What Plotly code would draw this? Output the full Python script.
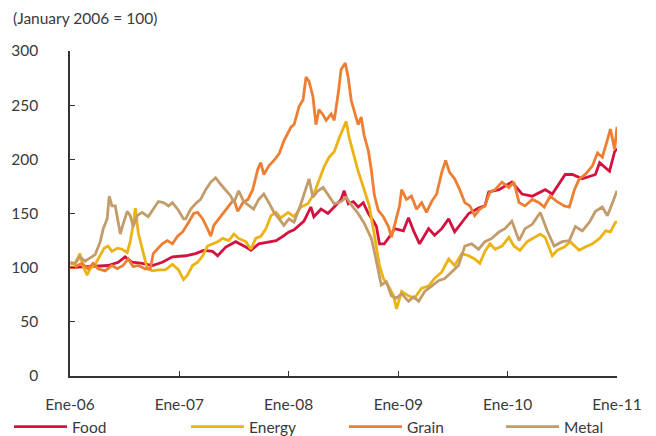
import plotly.graph_objects as go

# ---------------- data (index, January 2006 = 100) ----------------
food_dates = ["2006-01-02","2006-02-20","2006-04-05","2006-05-08","2006-06-11","2006-07-04","2006-07-28",
    "2006-08-30","2006-10-03","2006-11-05","2006-12-09","2007-01-05","2007-01-22","2007-02-24","2007-03-23",
    "2007-04-22","2007-05-09","2007-06-05","2007-07-08","2007-08-11","2007-08-28","2007-09-23","2007-10-27",
    "2007-11-20","2007-12-13","2008-01-02","2008-01-19","2008-02-21","2008-03-15","2008-03-25","2008-04-18",
    "2008-05-11","2008-06-01","2008-06-24","2008-07-04","2008-07-18","2008-08-04","2008-08-20","2008-09-06",
    "2008-09-23","2008-10-10","2008-10-20","2008-10-30","2008-11-15","2008-12-09","2008-12-19","2009-01-18",
    "2009-02-04","2009-02-21","2009-03-13","2009-04-12","2009-05-02","2009-05-26","2009-06-18","2009-07-08",
    "2009-08-01","2009-08-24","2009-09-26","2009-10-17","2009-10-30","2009-12-03","2010-01-15","2010-02-18",
    "2010-03-24","2010-05-06","2010-05-30","2010-07-12","2010-08-05","2010-09-07","2010-10-21","2010-11-04",
    "2010-12-07","2010-12-24","2011-01-01"]
food = [100,101,102,102,105,110,105,104,102,105,110,111,111,113,116,115,111,119,124,119,116,122,124,125,129,
    133,135,143,156,147,154,150,156,163,171,159,161,156,160,150,143,138,122,122,131,136,134,146,134,122,136,
    130,136,145,133,142,150,155,157,170,172,179,168,166,172,168,186,186,182,186,197,189,207,210]

energy_dates = ["2006-01-02","2006-01-18","2006-02-03","2006-02-13","2006-02-27","2006-03-09","2006-03-26",
    "2006-04-12","2006-04-25","2006-05-08","2006-05-21","2006-06-08","2006-06-24","2006-07-11","2006-07-21",
    "2006-07-31","2006-08-07","2006-08-17","2006-08-30","2006-09-16","2006-10-03","2006-10-23","2006-11-15",
    "2006-12-09","2006-12-29","2007-01-15","2007-01-28","2007-02-14","2007-03-03","2007-03-20","2007-04-05",
    "2007-04-22","2007-05-09","2007-05-26","2007-06-15","2007-07-02","2007-07-18","2007-08-11","2007-08-28",
    "2007-09-13","2007-09-30","2007-10-17","2007-11-03","2007-11-20","2007-12-06","2007-12-30","2008-01-19",
    "2008-02-11","2008-03-05","2008-03-25","2008-04-11","2008-04-28","2008-05-15","2008-06-01","2008-06-18",
    "2008-07-01","2008-07-11","2008-07-21","2008-08-04","2008-08-20","2008-09-09","2008-09-26","2008-10-10",
    "2008-10-20","2008-10-30","2008-11-12","2008-11-29","2008-12-16","2008-12-26","2009-01-12","2009-02-04",
    "2009-02-24","2009-03-20","2009-04-12","2009-05-02","2009-05-26","2009-06-18","2009-07-08","2009-08-01",
    "2009-08-24","2009-09-13","2009-09-30","2009-10-17","2009-11-03","2009-11-20","2009-12-13","2010-01-05",
    "2010-01-22","2010-02-11","2010-03-07","2010-03-30","2010-04-20","2010-05-06","2010-05-30","2010-06-15",
    "2010-07-09","2010-07-29","2010-08-28","2010-09-17","2010-10-11","2010-11-04","2010-11-24","2010-12-10",
    "2010-12-27","2011-01-01"]
energy = [103,104,113,102,93,99,103,112,118,120,115,118,117,114,124,140,155,132,118,99,97,98,98,103,98,89,
    93,102,105,111,120,122,124,127,125,131,127,124,117,127,129,136,148,151,146,151,147,156,159,168,180,193,
    202,207,220,229,235,220,205,189,172,157,135,117,102,90,83,74,62,78,74,72,81,83,90,96,108,102,113,111,108,
    104,115,122,117,120,128,120,116,124,128,131,128,111,116,119,124,116,119,122,127,134,133,142,142]

grain_dates = ["2006-01-02","2006-01-18","2006-02-10","2006-03-02","2006-03-19","2006-04-05","2006-04-28",
    "2006-05-21","2006-06-08","2006-06-27","2006-07-14","2006-07-31","2006-08-17","2006-09-09","2006-09-26",
    "2006-10-06","2006-10-19","2006-11-05","2006-11-22","2006-12-09","2006-12-26","2007-01-12","2007-02-01",
    "2007-02-18","2007-03-03","2007-03-20","2007-04-05","2007-04-16","2007-04-26","2007-05-12","2007-05-29",
    "2007-06-15","2007-07-02","2007-07-15","2007-08-01","2007-08-18","2007-09-03","2007-09-20","2007-09-30",
    "2007-10-10","2007-10-27","2007-11-13","2007-11-30","2007-12-16","2008-01-09","2008-01-19","2008-02-05",
    "2008-02-18","2008-02-28","2008-03-09","2008-03-22","2008-04-01","2008-04-11","2008-04-25","2008-05-05",
    "2008-05-22","2008-06-01","2008-06-14","2008-06-24","2008-07-08","2008-07-18","2008-07-28","2008-08-07",
    "2008-08-20","2008-08-30","2008-09-09","2008-09-23","2008-10-03","2008-10-13","2008-10-26","2008-11-12",
    "2008-11-29","2008-12-09","2008-12-19","2009-01-05","2009-01-12","2009-01-28","2009-02-14","2009-03-03",
    "2009-03-20","2009-04-05","2009-04-22","2009-05-09","2009-05-26","2009-06-08","2009-06-21","2009-07-08",
    "2009-07-25","2009-08-11","2009-08-28","2009-09-13","2009-09-30","2009-10-17","2009-11-03","2009-11-20",
    "2009-12-13","2010-01-05","2010-01-22","2010-02-08","2010-02-28","2010-03-24","2010-04-16","2010-05-03",
    "2010-05-23","2010-06-15","2010-07-09","2010-07-26","2010-08-12","2010-08-28","2010-09-17","2010-10-11",
    "2010-10-28","2010-11-13","2010-11-30","2010-12-10","2010-12-24","2010-12-29","2011-01-01"]
grain = [100,101,104,99,104,99,97,102,99,102,108,101,102,99,99,113,117,122,125,122,129,133,142,150,151,145,
    136,129,139,145,151,157,163,152,160,163,172,191,197,186,194,199,205,217,230,232,249,255,276,272,258,232,
    246,241,236,242,236,260,283,289,275,254,245,232,239,222,208,190,167,153,147,138,128,139,157,172,163,166,
    154,160,151,161,168,188,199,188,182,172,160,157,148,154,157,170,172,179,174,179,160,157,163,160,156,166,
    161,157,156,172,182,186,194,206,202,218,228,209,225,230]

metal_dates = ["2006-01-02","2006-01-18","2006-02-03","2006-02-20","2006-03-09","2006-03-26","2006-04-12",
    "2006-04-22","2006-05-05","2006-05-12","2006-05-21","2006-06-01","2006-06-11","2006-06-18","2006-06-27",
    "2006-07-11","2006-07-21","2006-07-31","2006-08-13","2006-08-30","2006-09-19","2006-10-06","2006-10-23",
    "2006-11-09","2006-11-26","2006-12-09","2006-12-29","2007-01-15","2007-01-22","2007-02-08","2007-02-24",
    "2007-03-13","2007-03-30","2007-04-16","2007-05-02","2007-05-19","2007-06-05","2007-06-22","2007-07-02",
    "2007-07-18","2007-08-04","2007-08-21","2007-09-06","2007-09-23","2007-10-10","2007-10-27","2007-11-13",
    "2007-11-30","2007-12-16","2008-01-02","2008-01-19","2008-02-11","2008-02-28","2008-03-09","2008-03-22",
    "2008-04-08","2008-04-25","2008-05-11","2008-06-01","2008-06-24","2008-07-11","2008-07-28","2008-08-20",
    "2008-09-09","2008-10-03","2008-10-13","2008-10-26","2008-11-05","2008-11-22","2008-12-09","2008-12-26",
    "2009-01-12","2009-02-04","2009-02-21","2009-03-10","2009-03-30","2009-04-22","2009-05-15","2009-06-05",
    "2009-06-28","2009-07-21","2009-08-11","2009-09-03","2009-09-26","2009-10-17","2009-11-09","2009-12-03",
    "2009-12-23","2010-01-15","2010-02-08","2010-02-28","2010-03-24","2010-04-20","2010-05-13","2010-06-05",
    "2010-07-02","2010-07-26","2010-08-15","2010-09-07","2010-10-01","2010-10-21","2010-11-13","2010-11-30",
    "2010-12-17","2011-01-01"]
metal = [105,104,110,106,109,112,124,136,145,166,157,157,142,131,140,152,148,138,148,151,147,154,161,160,
    157,160,153,145,145,154,159,163,172,179,183,177,172,166,160,171,161,157,154,163,168,160,151,145,139,145,
    142,159,174,182,165,171,174,168,159,161,165,158,150,141,127,115,96,84,87,74,72,76,69,73,69,78,83,88,90,
    96,102,120,122,117,124,127,133,136,143,125,136,140,151,134,120,124,125,138,134,142,152,156,148,160,171]

series_names = ["Food", "Energy", "Grain", "Metal"]
series_colors = ["#D4123F", "#EDB213", "#EE7F32", "#C29C6A"]

tick_vals = ["2006-01-01", "2007-01-01", "2008-01-01", "2009-01-01", "2010-01-01", "2011-01-01"]
tick_text = ["Ene-06", "Ene-07", "Ene-08", "Ene-09", "Ene-10", "Ene-11"]
y_ticks = [0, 50, 100, 150, 200, 250, 300]

FONT = "Lato"
TXT = "#3a3a3a"
W, H = 656, 436

fig = go.Figure()
xs = [food_dates, energy_dates, grain_dates, metal_dates]
ys = [food, energy, grain, metal]
legend_ids = ["legend", "legend2", "legend3", "legend4"]
for name, col, x, y, lg in zip(series_names, series_colors, xs, ys, legend_ids):
    fig.add_trace(go.Scatter(x=x, y=y, name=name, mode="lines",
                             line=dict(color=col, width=2.8), legend=lg))

legend_x = [9, 186, 344, 501]
common_leg = dict(xref="container", yref="container", xanchor="left", yanchor="middle",
                  y=1 - 427 / H, orientation="h", itemwidth=53, bgcolor="rgba(0,0,0,0)",
                  font=dict(family=FONT, size=15.5, color=TXT), borderwidth=0,
                  tracegroupgap=0)
layout_legends = {}
for lg, lx in zip(legend_ids, legend_x):
    layout_legends[lg] = dict(common_leg, x=lx / W)

fig.update_layout(
    width=W, height=H,
    margin=dict(l=70, r=39, t=51, b=60, autoexpand=False),
    plot_bgcolor="white", paper_bgcolor="white",
    font=dict(family=FONT, size=15, color=TXT),
    showlegend=True,
    title=dict(text="(January 2006 = 100)", xref="container", yref="container",
               x=13 / W, xanchor="left", y=1 - 19 / H, yanchor="middle",
               font=dict(family=FONT, size=15.5, color=TXT)),
    xaxis=dict(type="date", range=["2006-01-01", "2011-01-01"], tickvals=tick_vals, ticktext=tick_text,
               showgrid=False, zeroline=False, showline=True, linecolor="#333", linewidth=1.5,
               ticks="inside", ticklen=5, tickwidth=1.3, tickcolor="#333", automargin=False,
               tickfont=dict(family=FONT, size=15.5, color=TXT), ticklabelstandoff=14),
    yaxis=dict(range=[0, 300], tickvals=y_ticks, showgrid=False, zeroline=False,
               showline=True, linecolor="#333", linewidth=1.5, automargin=False,
               ticks="inside", ticklen=5, tickwidth=1.3, tickcolor="#333",
               tickfont=dict(family=FONT, size=15.5, color=TXT), ticklabelstandoff=27),
    **layout_legends,
)

fig.write_html("out.html", config={"displayModeBar": False},
               post_script="document.body.style.margin='0';document.body.style.padding='0';")
